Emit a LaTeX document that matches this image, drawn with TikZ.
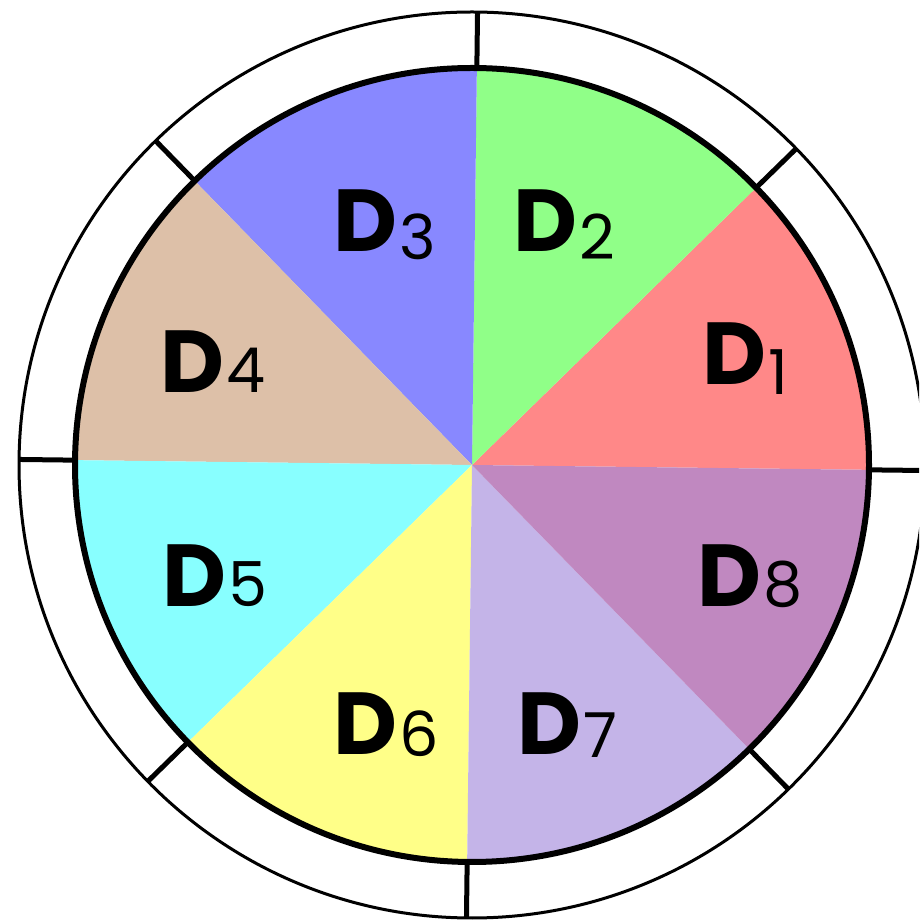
\documentclass[tikz,border=0pt]{standalone}
\usepackage{fontspec}
\usetikzlibrary{calc}
\setmainfont{Poppins}
\definecolor{cD1}{RGB}{255,136,136}
\definecolor{cD2}{RGB}{144,255,136}
\definecolor{cD3}{RGB}{136,136,255}
\definecolor{cD4}{RGB}{221,192,168}
\definecolor{cD5}{RGB}{136,255,255}
\definecolor{cD6}{RGB}{255,255,136}
\definecolor{cD7}{RGB}{196,180,232}
\definecolor{cD8}{RGB}{192,136,192}
\newcommand\mydg[2][0]{\hspace{2pt}\raisebox{#1pt}{\fontsize{62}{62}\selectfont\mdseries #2}}
\tikzset{
  lbl/.style={anchor=base west,inner sep=0pt,font=\fontsize{88}{88}\selectfont\bfseries},
  ring/.style={line width=3pt},
  innerring/.style={line width=6pt},
  tick/.style={line width=5pt}
}
\begin{document}
\begin{tikzpicture}[x=1pt,y=1pt]
\clip (0,0) rectangle (919,921);
\fill[white] (0,0) rectangle (919,921);
\coordinate (c) at (472,456);
% sectors
\foreach \i/\col in {0/cD1,1/cD2,2/cD3,3/cD4,4/cD5,5/cD6,6/cD7,7/cD8}{
  \pgfmathsetmacro\a{-0.7+45*\i}
  \pgfmathsetmacro\b{-0.7+45*(\i+1)}
  \fill[\col] (c) -- ++(\a:397) arc[start angle=\a,end angle=\b,radius=397] -- cycle;
}
% ticks
\foreach \i in {0,...,7}{
  \pgfmathsetmacro\a{-0.7+45*\i}
  \draw[tick] ($(c)+(\a:397)$) -- ($(c)+(\a:453)$);
}
% rings
\draw[innerring] (c) circle[radius=397];
\draw[ring] (c) circle[radius=453];
% labels
\node[lbl] (d1) at (702,536) {D\mydg[-10]{1}};
\node[lbl] (d2) at (513,669) {D\mydg[-8]{2}};
\node[lbl] (d3) at (333,669) {D\mydg[-8]{3}};
\node[lbl] (d4) at (160,528) {D\mydg{4}};
\node[lbl] (d5) at (162,314) {D\mydg{5}};
\node[lbl] (d6) at (333,166) {D\mydg[-2]{6}};
\node[lbl] (d7) at (517,166) {D\mydg[-3]{7}};
\node[lbl] (d8) at (697,314) {D\mydg{8}};
\end{tikzpicture}
\end{document}
